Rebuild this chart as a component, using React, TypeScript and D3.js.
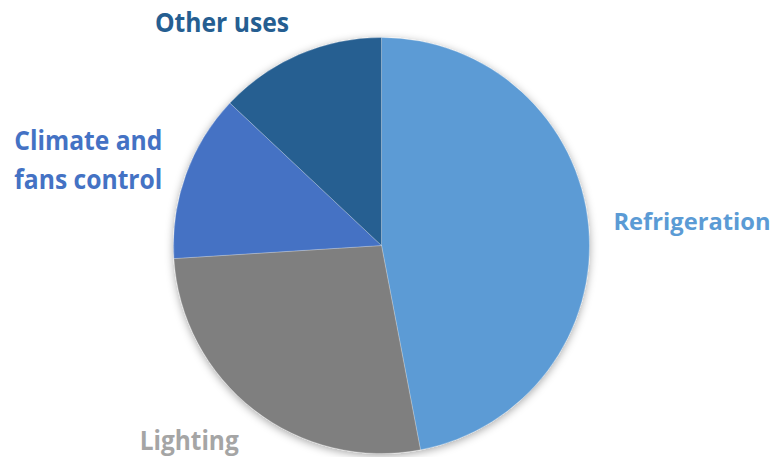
import React from "react";
import * as d3 from "d3";

const categories = ["Refrigeration", "Lighting", "Climate and fans control", "Other uses"];
const labelLines = [["Refrigeration"], ["Lighting"], ["Climate and", "fans control"], ["Other uses"]];
const values = [47, 27, 13, 13];
const sliceColors = ["#5B9BD5", "#7F7F7F", "#4472C4", "#255E91"];
const labelColors = ["#5B9BD5", "#A5A5A5", "#4472C4", "#255E91"];
// measured label widths in the reference (for textLength)
const labelWidths = [[157], [99], [148, 148], [134]];
const labelSizes = [23, 26, 26, 26];

const W = 776;
const H = 457;
const CX = 381.5;
const CY = 245.5;
const R = 208;
const FS = 26;
const CAP = 0.72 * FS;
const LINE_H = 39;
const GAP = 25;

export default function App() {
  const data = categories.map((c, i) => ({ c, v: values[i], i }));
  const pie = d3.pie<any>().value((d: any) => d.v).sort(null);
  const arcs = pie(data);
  const arc = d3.arc<any>().innerRadius(0).outerRadius(R);

  return (
    <svg width={W} height={H} style={{ position: "absolute", left: 0, top: 0 }}>
      <defs>
        <filter id="sh" x="-20%" y="-20%" width="140%" height="140%">
          <feDropShadow dx="0" dy="2" stdDeviation="4" floodColor="#000" floodOpacity="0.35" />
        </filter>
      </defs>
      <g transform={`translate(${CX},${CY})`}>
        <g filter="url(#sh)">
          {arcs.map((a, i) => (
            <path key={i} d={arc(a) || ""} fill={sliceColors[i]} stroke="#ffffff" strokeWidth={0.4} strokeOpacity={0.6} />
          ))}
        </g>
        {arcs.map((a, i) => {
          const mid = (a.startAngle + a.endAngle) / 2;
          const s = Math.sin(mid);
          const c = Math.cos(mid);
          const px = s * (R + GAP);
          const py = -c * (R + GAP);
          const lines = labelLines[i];
          const n = lines.length;
          const anchor = s > 0.3 ? "start" : s < -0.3 ? "end" : "middle";
          let firstBaseline: number;
          if (c > 0.5) {
            firstBaseline = py - (n - 1) * LINE_H;
          } else if (c < -0.5) {
            firstBaseline = py + CAP + 2;
          } else {
            // center of the text box, nudged along the angle
            firstBaseline = py + 0.25 * FS - ((n - 1) * LINE_H) / 2 - c * (n - 1) * 12;
          }
          return (
            <text
              key={"l" + i}
              fontFamily="'Open Sans', sans-serif"
              fontWeight="bold"
              fontSize={labelSizes[i]}
              fill={labelColors[i]}
              textAnchor={anchor}
            >
              {lines.map((t, k) => (
                <tspan
                  key={k}
                  x={px}
                  y={firstBaseline + k * LINE_H}
                  textLength={labelWidths[i][k]}
                  lengthAdjust="spacingAndGlyphs"
                >
                  {t}
                </tspan>
              ))}
            </text>
          );
        })}
      </g>
    </svg>
  );
}
